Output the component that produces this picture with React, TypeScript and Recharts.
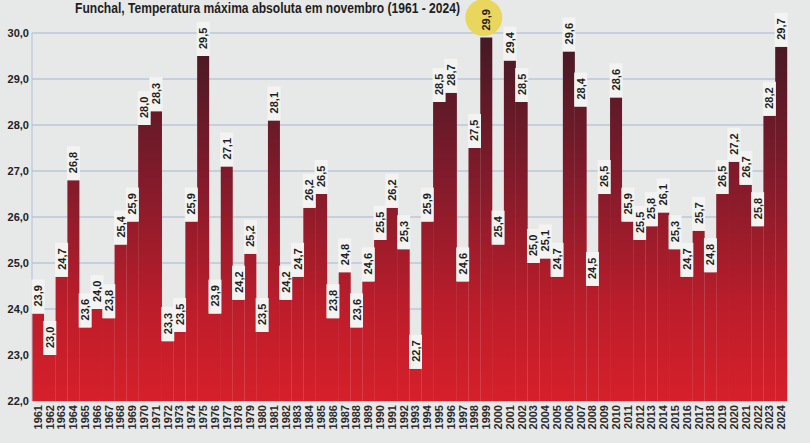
import { BarChart, Bar, XAxis, YAxis, CartesianGrid, LabelList } from 'recharts'

const years = [
  '1961', '1962', '1963', '1964', '1965', '1966', '1967', '1968', '1969', '1970',
  '1971', '1972', '1973', '1974', '1975', '1976', '1977', '1978', '1979', '1980',
  '1981', '1982', '1983', '1984', '1985', '1986', '1987', '1988', '1989', '1990',
  '1991', '1992', '1993', '1994', '1995', '1996', '1997', '1998', '1999', '2000',
  '2001', '2002', '2003', '2004', '2005', '2006', '2007', '2008', '2009', '2010',
  '2011', '2012', '2013', '2014', '2015', '2016', '2017', '2018', '2019', '2020',
  '2021', '2022', '2023', '2024',
]

// temperatura máxima absoluta em novembro (°C)
const tmax = [
  23.9, 23.0, 24.7, 26.8, 23.6, 24.0, 23.8, 25.4, 25.9, 28.0,
  28.3, 23.3, 23.5, 25.9, 29.5, 23.9, 27.1, 24.2, 25.2, 23.5,
  28.1, 24.2, 24.7, 26.2, 26.5, 23.8, 24.8, 23.6, 24.6, 25.5,
  26.2, 25.3, 22.7, 25.9, 28.5, 28.7, 24.6, 27.5, 29.9, 25.4,
  29.4, 28.5, 25.0, 25.1, 24.7, 29.6, 28.4, 24.5, 26.5, 28.6,
  25.9, 25.5, 25.8, 26.1, 25.3, 24.7, 25.7, 24.8, 26.5, 27.2,
  26.7, 25.8, 28.2, 29.7,
]

const yTicks = [22, 23, 24, 25, 26, 27, 28, 29, 30]

const title = 'Funchal, Temperatura máxima absoluta em novembro (1961 - 2024)'

const data = years.map((year, i) => ({ year, tmax: tmax[i] }))
const peak = Math.max(...tmax)

const fmt = (v: number) => Number(v).toFixed(1).replace('.', ',')

const BG = '#e7e9e8'
const FONT = '"Liberation Sans", Arial, sans-serif'

function ValueLabel(props: any) {
  const { x, y, width, value } = props
  const cx = Number(x) + Number(width) / 2
  const top = Number(y)
  const isPeak = value === peak
  return (
    <g transform={`translate(${cx},${top}) rotate(-90)`}>
      {isPeak
        ? <circle cx={20} cy={-2.5} r={18.5} fill="#e9d65c" />
        : <rect x={0} y={-6.5} width={34} height={13} fill="#f3f4f2" />}
      <text
        x={7}
        y={0}
        dominantBaseline="central"
        fontFamily={FONT}
        fontSize={11}
        fontWeight="bold"
        fill="#1e1e22"
      >
        {fmt(value)}
      </text>
    </g>
  )
}

function YearTick({ x, y, payload }: any) {
  return (
    <text
      transform={`translate(${x},${y}) rotate(-90)`}
      textAnchor="end"
      dominantBaseline="central"
      fontFamily={FONT}
      fontSize={11}
      fontWeight="bold"
      fill="#2a2a2e"
    >
      {payload.value}
    </text>
  )
}

export default function App() {
  return (
    <div style={{ position: 'absolute', left: 0, top: 0, width: 810, height: 443, background: BG, overflow: 'hidden' }}>
      <BarChart
        width={810}
        height={443}
        data={data}
        margin={{ top: 33, right: 23, bottom: 0, left: 0 }}
        barCategoryGap={0}
        barGap={0}
      >
        <defs>
          <linearGradient id="barGrad" gradientUnits="userSpaceOnUse" x1={0} y1={33} x2={0} y2={401}>
            <stop offset="0" stopColor="#431925" />
            <stop offset="0.45" stopColor="#8a1b2b" />
            <stop offset="0.75" stopColor="#bd1d2a" />
            <stop offset="1" stopColor="#d6202a" />
          </linearGradient>
        </defs>
        <CartesianGrid vertical={false} stroke="#a9b6cf" strokeWidth={1.2} />
        <XAxis
          dataKey="year"
          interval={0}
          height={42}
          tickSize={0}
          tickMargin={4}
          tickLine={false}
          axisLine={false}
          tick={<YearTick />}
        />
        <YAxis
          domain={[22, 30]}
          ticks={yTicks}
          width={32}
          tickSize={0}
          tickMargin={3}
          tickLine={false}
          axisLine={{ stroke: '#b3bfd6' }}
          tickFormatter={fmt}
          tick={{ fontFamily: FONT, fontSize: 11, fontWeight: 'bold', fill: '#222' }}
        />
        <Bar dataKey="tmax" fill="url(#barGrad)" isAnimationActive={false}>
          <LabelList dataKey="tmax" content={<ValueLabel />} />
        </Bar>
      </BarChart>
      <svg width={810} height={443} style={{ position: 'absolute', left: 0, top: 0, pointerEvents: 'none' }}>
        <text
          x={75}
          y={13}
          fontFamily={FONT}
          fontSize={14}
          fontWeight="bold"
          fill="#1e1e22"
          textLength={385}
          lengthAdjust="spacingAndGlyphs"
        >
          {title}
        </text>
      </svg>
    </div>
  )
}
